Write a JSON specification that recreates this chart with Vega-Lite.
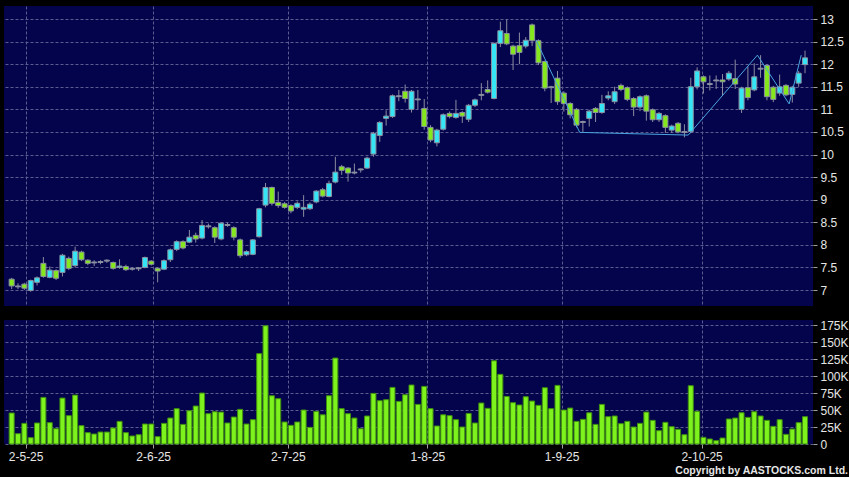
{
  "$schema": "https://vega.github.io/schema/vega-lite/v6.json",
  "background": "#000000",
  "padding": {"left": 4, "top": 6, "right": 0, "bottom": 0},
  "autosize": {"type": "pad"},
  "spacing": 13,
  "config": {
    "view": {"fill": "#04044c", "stroke": null},
    "axis": {"gridColor": "#5c5c90", "gridDash": [3, 2], "gridWidth": 1, "domain": false, "labelColor": "#e6e6e6", "labelFont": "Liberation Sans", "labelFontSize": 12, "tickColor": "#a0a0a0", "tickSize": 4, "labelPadding": 3, "labelOverlap": false}
  },
  "title": {"text": "Copyright by AASTOCKS.com Ltd.", "orient": "bottom", "anchor": "end", "color": "#e6e6e6", "fontSize": 10.5, "font": "Liberation Sans", "fontWeight": "bold", "offset": 4},
  "datasets": {
    "candles": [
      {"i":0,"o":7.24,"h":7.27,"l":7.02,"c":7.09,"v":45600,"d":"down"},
      {"i":1,"o":7.09,"h":7.15,"l":7.02,"c":7.07,"v":15200,"d":"flat"},
      {"i":2,"o":7.13,"h":7.16,"l":7.00,"c":7.04,"v":30400,"d":"down"},
      {"i":3,"o":6.99,"h":7.23,"l":6.96,"c":7.21,"v":9300,"d":"up"},
      {"i":4,"o":7.17,"h":7.30,"l":7.10,"c":7.27,"v":30900,"d":"up"},
      {"i":5,"o":7.59,"h":7.73,"l":7.27,"c":7.30,"v":68600,"d":"down"},
      {"i":6,"o":7.28,"h":7.52,"l":7.26,"c":7.44,"v":31400,"d":"up"},
      {"i":7,"o":7.43,"h":7.46,"l":7.22,"c":7.26,"v":22500,"d":"down"},
      {"i":8,"o":7.39,"h":7.80,"l":7.30,"c":7.77,"v":67600,"d":"up"},
      {"i":9,"o":7.70,"h":7.74,"l":7.44,"c":7.48,"v":41700,"d":"down"},
      {"i":10,"o":7.54,"h":7.96,"l":7.50,"c":7.86,"v":72000,"d":"up"},
      {"i":11,"o":7.84,"h":7.87,"l":7.64,"c":7.67,"v":27000,"d":"down"},
      {"i":12,"o":7.66,"h":7.68,"l":7.55,"c":7.59,"v":16700,"d":"down"},
      {"i":13,"o":7.62,"h":7.66,"l":7.53,"c":7.60,"v":14700,"d":"flat"},
      {"i":14,"o":7.63,"h":7.66,"l":7.57,"c":7.61,"v":17600,"d":"flat"},
      {"i":15,"o":7.66,"h":7.68,"l":7.60,"c":7.64,"v":17600,"d":"flat"},
      {"i":16,"o":7.61,"h":7.63,"l":7.45,"c":7.48,"v":23500,"d":"down"},
      {"i":17,"o":7.50,"h":7.68,"l":7.47,"c":7.53,"v":33300,"d":"up"},
      {"i":18,"o":7.52,"h":7.56,"l":7.42,"c":7.45,"v":16700,"d":"down"},
      {"i":19,"o":7.48,"h":7.50,"l":7.43,"c":7.46,"v":11800,"d":"flat"},
      {"i":20,"o":7.49,"h":7.51,"l":7.42,"c":7.47,"v":13700,"d":"flat"},
      {"i":21,"o":7.50,"h":7.74,"l":7.48,"c":7.72,"v":29400,"d":"up"},
      {"i":22,"o":7.64,"h":7.66,"l":7.54,"c":7.57,"v":29400,"d":"down"},
      {"i":23,"o":7.48,"h":7.50,"l":7.17,"c":7.42,"v":10800,"d":"down"},
      {"i":24,"o":7.46,"h":7.68,"l":7.44,"c":7.65,"v":30400,"d":"up"},
      {"i":25,"o":7.67,"h":7.92,"l":7.62,"c":7.89,"v":38200,"d":"up"},
      {"i":26,"o":7.90,"h":8.10,"l":7.86,"c":8.07,"v":52000,"d":"up"},
      {"i":27,"o":8.07,"h":8.10,"l":7.90,"c":7.93,"v":28900,"d":"down"},
      {"i":28,"o":8.06,"h":8.33,"l":8.04,"c":8.17,"v":49000,"d":"up"},
      {"i":29,"o":8.21,"h":8.27,"l":8.05,"c":8.13,"v":55900,"d":"down"},
      {"i":30,"o":8.15,"h":8.55,"l":8.12,"c":8.43,"v":75000,"d":"up"},
      {"i":31,"o":8.42,"h":8.47,"l":8.36,"c":8.40,"v":44600,"d":"flat"},
      {"i":32,"o":8.38,"h":8.41,"l":8.04,"c":8.17,"v":47500,"d":"down"},
      {"i":33,"o":8.13,"h":8.50,"l":8.10,"c":8.48,"v":47000,"d":"up"},
      {"i":34,"o":8.45,"h":8.49,"l":8.40,"c":8.43,"v":30900,"d":"flat"},
      {"i":35,"o":8.38,"h":8.41,"l":8.10,"c":8.17,"v":39700,"d":"down"},
      {"i":36,"o":8.11,"h":8.14,"l":7.71,"c":7.76,"v":51000,"d":"down"},
      {"i":37,"o":7.78,"h":7.88,"l":7.75,"c":7.85,"v":29400,"d":"up"},
      {"i":38,"o":7.79,"h":8.13,"l":7.77,"c":8.11,"v":35800,"d":"up"},
      {"i":39,"o":8.18,"h":8.82,"l":8.16,"c":8.80,"v":133000,"d":"up"},
      {"i":40,"o":8.88,"h":9.37,"l":8.83,"c":9.27,"v":174000,"d":"up"},
      {"i":41,"o":9.27,"h":9.29,"l":8.87,"c":8.92,"v":71000,"d":"down"},
      {"i":42,"o":8.94,"h":9.18,"l":8.82,"c":8.87,"v":66700,"d":"down"},
      {"i":43,"o":8.91,"h":8.95,"l":8.80,"c":8.83,"v":32400,"d":"down"},
      {"i":44,"o":8.87,"h":8.90,"l":8.70,"c":8.75,"v":27500,"d":"down"},
      {"i":45,"o":8.83,"h":8.96,"l":8.79,"c":8.92,"v":32400,"d":"up"},
      {"i":46,"o":8.79,"h":9.10,"l":8.62,"c":8.83,"v":50000,"d":"up"},
      {"i":47,"o":8.80,"h":8.94,"l":8.77,"c":8.90,"v":24500,"d":"up"},
      {"i":48,"o":8.95,"h":9.21,"l":8.92,"c":9.19,"v":48000,"d":"up"},
      {"i":49,"o":9.22,"h":9.26,"l":9.05,"c":9.08,"v":43000,"d":"down"},
      {"i":50,"o":9.07,"h":9.42,"l":9.05,"c":9.36,"v":71000,"d":"up"},
      {"i":51,"o":9.39,"h":9.95,"l":9.36,"c":9.61,"v":126500,"d":"up"},
      {"i":52,"o":9.73,"h":9.77,"l":9.55,"c":9.65,"v":52000,"d":"down"},
      {"i":53,"o":9.70,"h":9.72,"l":9.40,"c":9.59,"v":44600,"d":"down"},
      {"i":54,"o":9.61,"h":9.80,"l":9.56,"c":9.59,"v":38200,"d":"flat"},
      {"i":55,"o":9.68,"h":9.69,"l":9.60,"c":9.66,"v":22500,"d":"flat"},
      {"i":56,"o":9.70,"h":9.95,"l":9.68,"c":9.92,"v":41200,"d":"up"},
      {"i":57,"o":10.01,"h":10.50,"l":9.95,"c":10.47,"v":74500,"d":"up"},
      {"i":58,"o":10.42,"h":10.74,"l":10.28,"c":10.71,"v":63700,"d":"up"},
      {"i":59,"o":10.80,"h":10.98,"l":10.64,"c":10.85,"v":65200,"d":"up"},
      {"i":60,"o":10.84,"h":11.33,"l":10.81,"c":11.30,"v":83300,"d":"up"},
      {"i":61,"o":11.30,"h":11.43,"l":11.18,"c":11.28,"v":62700,"d":"flat"},
      {"i":62,"o":11.40,"h":11.55,"l":11.15,"c":11.24,"v":72500,"d":"down"},
      {"i":63,"o":11.00,"h":11.43,"l":10.93,"c":11.40,"v":86800,"d":"up"},
      {"i":64,"o":11.23,"h":11.43,"l":11.00,"c":11.21,"v":58300,"d":"flat"},
      {"i":65,"o":11.02,"h":11.23,"l":10.55,"c":10.62,"v":84800,"d":"down"},
      {"i":66,"o":10.60,"h":10.65,"l":10.27,"c":10.32,"v":52000,"d":"down"},
      {"i":67,"o":10.26,"h":10.57,"l":10.18,"c":10.54,"v":26500,"d":"up"},
      {"i":68,"o":10.56,"h":10.91,"l":10.53,"c":10.88,"v":43000,"d":"up"},
      {"i":69,"o":10.91,"h":10.95,"l":10.80,"c":10.84,"v":41700,"d":"down"},
      {"i":70,"o":10.82,"h":11.21,"l":10.79,"c":10.91,"v":35800,"d":"up"},
      {"i":71,"o":10.93,"h":10.96,"l":10.70,"c":10.85,"v":25000,"d":"down"},
      {"i":72,"o":10.78,"h":11.12,"l":10.72,"c":11.09,"v":45000,"d":"up"},
      {"i":73,"o":11.09,"h":11.24,"l":11.05,"c":11.21,"v":30900,"d":"up"},
      {"i":74,"o":11.33,"h":11.58,"l":11.20,"c":11.31,"v":60300,"d":"flat"},
      {"i":75,"o":11.44,"h":11.64,"l":11.35,"c":11.38,"v":52500,"d":"down"},
      {"i":76,"o":11.24,"h":12.48,"l":11.22,"c":12.46,"v":122500,"d":"up"},
      {"i":77,"o":12.46,"h":12.94,"l":12.38,"c":12.74,"v":102500,"d":"up"},
      {"i":78,"o":12.68,"h":12.99,"l":12.42,"c":12.45,"v":70000,"d":"down"},
      {"i":79,"o":12.40,"h":12.43,"l":11.87,"c":12.22,"v":60800,"d":"down"},
      {"i":80,"o":12.41,"h":12.70,"l":12.00,"c":12.26,"v":57400,"d":"down"},
      {"i":81,"o":12.40,"h":12.60,"l":12.35,"c":12.53,"v":69600,"d":"up"},
      {"i":82,"o":12.87,"h":12.90,"l":12.40,"c":12.52,"v":63200,"d":"down"},
      {"i":83,"o":12.52,"h":12.55,"l":11.98,"c":12.03,"v":56900,"d":"down"},
      {"i":84,"o":12.06,"h":12.08,"l":11.40,"c":11.47,"v":82800,"d":"down"},
      {"i":85,"o":11.50,"h":11.52,"l":11.14,"c":11.48,"v":52000,"d":"flat"},
      {"i":86,"o":11.69,"h":11.85,"l":11.10,"c":11.17,"v":86300,"d":"down"},
      {"i":87,"o":11.36,"h":11.40,"l":10.95,"c":11.13,"v":50000,"d":"down"},
      {"i":88,"o":11.13,"h":11.16,"l":10.80,"c":10.88,"v":52900,"d":"down"},
      {"i":89,"o":11.00,"h":11.03,"l":10.60,"c":10.65,"v":33300,"d":"down"},
      {"i":90,"o":10.73,"h":10.75,"l":10.50,"c":10.71,"v":36300,"d":"flat"},
      {"i":91,"o":10.80,"h":10.99,"l":10.62,"c":10.96,"v":46000,"d":"up"},
      {"i":92,"o":11.02,"h":11.05,"l":10.72,"c":10.93,"v":28900,"d":"down"},
      {"i":93,"o":10.93,"h":11.32,"l":10.90,"c":11.13,"v":58300,"d":"up"},
      {"i":94,"o":11.25,"h":11.40,"l":11.20,"c":11.30,"v":40200,"d":"up"},
      {"i":95,"o":11.17,"h":11.50,"l":11.12,"c":11.39,"v":41200,"d":"up"},
      {"i":96,"o":11.53,"h":11.57,"l":11.40,"c":11.44,"v":29900,"d":"down"},
      {"i":97,"o":11.48,"h":11.51,"l":11.18,"c":11.22,"v":33300,"d":"down"},
      {"i":98,"o":11.24,"h":11.27,"l":10.85,"c":11.05,"v":25000,"d":"down"},
      {"i":99,"o":11.05,"h":11.31,"l":10.96,"c":11.28,"v":30400,"d":"up"},
      {"i":100,"o":11.30,"h":11.33,"l":10.75,"c":10.96,"v":47000,"d":"down"},
      {"i":101,"o":10.99,"h":11.02,"l":10.72,"c":10.77,"v":34800,"d":"down"},
      {"i":102,"o":10.77,"h":10.94,"l":10.72,"c":10.91,"v":19600,"d":"up"},
      {"i":103,"o":10.86,"h":10.89,"l":10.48,"c":10.60,"v":31900,"d":"down"},
      {"i":104,"o":10.54,"h":10.66,"l":10.48,"c":10.63,"v":25500,"d":"up"},
      {"i":105,"o":10.69,"h":10.72,"l":10.47,"c":10.50,"v":21600,"d":"down"},
      {"i":106,"o":10.51,"h":10.67,"l":10.38,"c":10.49,"v":13700,"d":"flat"},
      {"i":107,"o":10.51,"h":11.70,"l":10.47,"c":11.50,"v":85800,"d":"up"},
      {"i":108,"o":11.50,"h":11.93,"l":11.44,"c":11.85,"v":48000,"d":"up"},
      {"i":109,"o":11.72,"h":11.75,"l":11.35,"c":11.61,"v":9800,"d":"down"},
      {"i":110,"o":11.57,"h":11.75,"l":11.42,"c":11.55,"v":7400,"d":"flat"},
      {"i":111,"o":11.65,"h":11.75,"l":11.45,"c":11.63,"v":4900,"d":"flat"},
      {"i":112,"o":11.65,"h":11.78,"l":11.30,"c":11.61,"v":8800,"d":"down"},
      {"i":113,"o":11.67,"h":11.85,"l":11.63,"c":11.80,"v":36800,"d":"up"},
      {"i":114,"o":11.68,"h":12.10,"l":11.45,"c":11.56,"v":38200,"d":"down"},
      {"i":115,"o":11.00,"h":11.50,"l":10.92,"c":11.47,"v":46000,"d":"up"},
      {"i":116,"o":11.48,"h":11.95,"l":11.20,"c":11.26,"v":39200,"d":"down"},
      {"i":117,"o":11.43,"h":12.02,"l":11.40,"c":11.72,"v":47500,"d":"up"},
      {"i":118,"o":11.91,"h":12.20,"l":11.70,"c":11.89,"v":41200,"d":"flat"},
      {"i":119,"o":11.97,"h":12.00,"l":11.20,"c":11.28,"v":34800,"d":"down"},
      {"i":120,"o":11.49,"h":11.52,"l":11.16,"c":11.22,"v":26000,"d":"down"},
      {"i":121,"o":11.36,"h":11.77,"l":11.30,"c":11.50,"v":35800,"d":"up"},
      {"i":122,"o":11.53,"h":11.56,"l":11.29,"c":11.32,"v":14200,"d":"down"},
      {"i":123,"o":11.33,"h":11.52,"l":11.15,"c":11.49,"v":22000,"d":"up"},
      {"i":124,"o":11.58,"h":11.85,"l":11.50,"c":11.80,"v":31400,"d":"up"},
      {"i":125,"o":11.99,"h":12.30,"l":11.80,"c":12.14,"v":40200,"d":"up"}
    ],
    "zig": [
      {"i":82.6,"p":12.54},
      {"i":89.5,"p":10.49},
      {"i":106.6,"p":10.43},
      {"i":117.5,"p":12.2},
      {"i":122.5,"p":11.12},
      {"i":124.4,"p":12.2}
    ]
  },
  "vconcat": [
    {
      "width": 809,
      "height": 300,
      "layer": [
        {
          "data": {"name": "candles"},
          "mark": {"type": "rule", "color": "#8c8ca0", "strokeWidth": 1},
          "encoding": {
            "x": {"field": "i", "type": "quantitative", "scale": {"domain": [-0.42, 125.47], "nice": false, "zero": false},
                  "axis": {"values": [2.2, 22.3, 43.5, 65.5, 86.65, 108.7], "labels": false, "ticks": false, "grid": true, "title": null}},
            "y": {"field": "l", "type": "quantitative", "scale": {"domain": [6.646, 13.288], "nice": false, "zero": false},
                  "axis": {"orient": "right", "values": [7, 7.5, 8, 8.5, 9, 9.5, 10, 10.5, 11, 11.5, 12, 12.5, 13], "format": "~g", "grid": true, "title": null, "labelOverlap": false}},
            "y2": {"field": "h"}
          }
        },
        {
          "data": {"name": "candles"},
          "mark": {"type": "bar", "width": 5, "stroke": "#8a90a0", "strokeWidth": 1, "orient": "vertical"},
          "encoding": {
            "x": {"field": "i", "type": "quantitative",
                  "axis": {"values": [2.2, 22.3, 43.5, 65.5, 86.65, 108.7], "labels": false, "ticks": false, "grid": true, "title": null}},
            "y": {"field": "o", "type": "quantitative",
                  "axis": {"orient": "right", "values": [7, 7.5, 8, 8.5, 9, 9.5, 10, 10.5, 11, 11.5, 12, 12.5, 13], "format": "~g", "grid": true, "title": null, "labelOverlap": false}},
            "y2": {"field": "c"},
            "color": {"field": "d", "type": "nominal", "scale": {"domain": ["up", "down", "flat"], "range": ["#35e5f5", "#84e81c", "#9a9aaa"]}, "legend": null}
          }
        },
        {
          "data": {"name": "zig"},
          "mark": {"type": "line", "color": "#4aa6e0", "strokeWidth": 1},
          "encoding": {
            "x": {"field": "i", "type": "quantitative",
                  "axis": {"values": [2.2, 22.3, 43.5, 65.5, 86.65, 108.7], "labels": false, "ticks": false, "grid": true, "title": null}},
            "y": {"field": "p", "type": "quantitative",
                  "axis": {"orient": "right", "values": [7, 7.5, 8, 8.5, 9, 9.5, 10, 10.5, 11, 11.5, 12, 12.5, 13], "format": "~g", "grid": true, "title": null, "labelOverlap": false}}
          }
        }
      ]
    },
    {
      "width": 809,
      "height": 124,
      "data": {"name": "candles"},
      "mark": {"type": "bar", "width": 5, "fill": "#7df21c", "stroke": "#3f8f0f", "strokeWidth": 1, "orient": "vertical"},
      "encoding": {
        "x": {"field": "i", "type": "quantitative", "scale": {"domain": [-0.42, 125.47], "nice": false, "zero": false},
              "axis": {"values": [2.2, 22.3, 43.5, 65.5, 86.65, 108.7], "grid": true, "title": null,
                       "labelExpr": "datum.value < 10 ? '2-5-25' : datum.value < 30 ? '2-6-25' : datum.value < 50 ? '2-7-25' : datum.value < 70 ? '1-8-25' : datum.value < 95 ? '1-9-25' : '2-10-25'"}},
        "y": {"field": "v", "type": "quantitative", "scale": {"domain": [0, 182500], "nice": false},
              "axis": {"orient": "right", "values": [0, 25000, 50000, 75000, 100000, 125000, 150000, 175000], "grid": true, "title": null,
                       "labelExpr": "datum.value == 0 ? '0' : (datum.value / 1000) + 'K'"}}
      }
    }
  ]
}
